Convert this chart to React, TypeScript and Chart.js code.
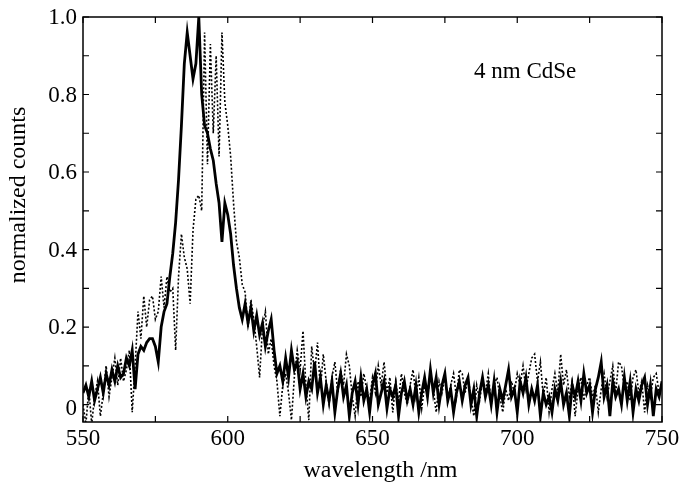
import React, { useEffect, useRef } from "react";
import { Chart, registerables } from "chart.js";

Chart.register(...registerables);

const START_NM = 550;
const X_TICKS = [550, 600, 650, 700, 750];
const Y_TICKS = [0, 0.2, 0.4, 0.6, 0.8, 1.0];
const X_MINOR = [550, 575, 600, 625, 650, 675, 700, 725, 750];
const Y_MINOR = [0, 0.1, 0.2, 0.3, 0.4, 0.5, 0.6, 0.7, 0.8, 0.9, 1.0];

const X_TITLE = "wavelength /nm";
const Y_TITLE = "normalized counts";
const NOTE = "4 nm CdSe";

// solid (thick) spectrum, 1 nm steps from 550 nm
const SOLID = [
  0.03, 0.05, 0.02, 0.06, 0.01, 0.04, 0.07, 0.03, 0.08, 0.05,
  0.09, 0.06, 0.1, 0.07, 0.08, 0.12, 0.1, 0.14, 0.04, 0.13,
  0.15, 0.14, 0.16, 0.17, 0.17, 0.15, 0.11, 0.2, 0.24, 0.26,
  0.33, 0.39, 0.47, 0.58, 0.72, 0.88, 0.96, 0.9, 0.84, 0.88,
  1.0, 0.8, 0.72, 0.7, 0.66, 0.63, 0.57, 0.52, 0.42, 0.52,
  0.49, 0.44, 0.36, 0.3, 0.25, 0.22, 0.26, 0.21, 0.25, 0.19,
  0.23, 0.18, 0.21, 0.15, 0.19, 0.22, 0.14, 0.08, 0.1, 0.06,
  0.12, 0.07, 0.14, 0.09, 0.11, 0.04, 0.08, 0.02, 0.06, 0.04,
  0.11, 0.03, 0.07, 0.0, 0.05, 0.01, 0.06, -0.02, 0.04, 0.08,
  0.02, 0.05, -0.03, 0.03, 0.06, 0.0, 0.07, 0.01, 0.04, -0.02,
  0.05, 0.08, 0.0, 0.03, 0.06, -0.01, 0.04, 0.02, 0.05, -0.03,
  0.03, 0.06, 0.01, 0.04, 0.0, 0.05, -0.02, 0.03, 0.07, 0.02,
  0.09, 0.03, 0.07, 0.0, 0.05, 0.08, 0.01, 0.04, -0.02, 0.03,
  0.06, 0.01, 0.05, 0.07, 0.0, 0.04, -0.03, 0.03, 0.07, 0.02,
  0.05, 0.0, 0.06, -0.02, 0.04, 0.01, 0.05, 0.09, 0.02, 0.04,
  -0.02, 0.06, 0.03, 0.07, 0.0, 0.04, 0.01, 0.05, -0.03, 0.03,
  0.0, 0.02, -0.02, 0.04, 0.01, 0.06, 0.0, 0.03, -0.03, 0.05,
  0.02, 0.06, 0.01, 0.08, 0.03, 0.05, -0.02, 0.04, 0.07, 0.11,
  0.02, 0.05, -0.03, 0.06, 0.02, 0.04, 0.0, 0.07, 0.01, 0.06,
  -0.02, 0.04, 0.01, 0.05, 0.07, 0.0, 0.05, -0.03, 0.04, 0.02,
  0.06,
];

// dotted spectrum, 1 nm steps from 550 nm
const DOTTED = [
  0.0, -0.05, 0.04, -0.05, 0.02, 0.06, -0.03, 0.03, 0.1, 0.02,
  0.07, 0.12, 0.05, 0.12, 0.06, 0.09, 0.14, -0.02, 0.1, 0.24,
  0.17, 0.28, 0.2, 0.27, 0.28, 0.22, 0.24, 0.33, 0.25, 0.33,
  0.29, 0.3, 0.14, 0.33, 0.44, 0.38, 0.35, 0.26, 0.45, 0.53,
  0.54, 0.5, 0.96, 0.62, 0.93, 0.7, 0.9, 0.64, 0.96, 0.78,
  0.72, 0.64, 0.52, 0.42, 0.38, 0.31, 0.29, 0.2, 0.27, 0.22,
  0.15, 0.07, 0.2, 0.24, 0.13, 0.17, 0.1, 0.06, -0.03, 0.05,
  0.08, 0.03, -0.04, 0.07, 0.14, 0.09, 0.19, 0.05, -0.04, 0.15,
  0.08, 0.16, 0.04, 0.13, 0.06, 0.0, 0.07, 0.11, 0.03, 0.09,
  0.05, 0.13, 0.1, 0.02, -0.03, 0.06, 0.02, 0.08, 0.04, 0.01,
  0.07, 0.03, 0.1, 0.05, 0.11, 0.03, 0.07, -0.02, 0.06, 0.01,
  0.08, 0.03, 0.0, 0.05, 0.09, 0.02, 0.07, -0.01, 0.05, 0.02,
  0.08, 0.04, -0.02, 0.06, 0.03, 0.07, 0.01, 0.05, 0.08, 0.02,
  0.09, 0.08, 0.03, 0.07, 0.02, -0.03, 0.05, 0.01, 0.06, 0.03,
  0.08, 0.0, 0.05, 0.07, 0.02, -0.02, 0.04, 0.01, 0.06, 0.03,
  0.08, 0.05, 0.1, 0.04, 0.08, 0.12, 0.13, 0.06, 0.11, 0.02,
  0.07, -0.02, 0.04, 0.08, 0.03, 0.13, 0.05, 0.09, 0.02, 0.06,
  -0.03, 0.04, 0.07, 0.01, 0.05, 0.07, 0.02, 0.05, -0.02, 0.04,
  0.08, 0.02, 0.06, 0.1, 0.03, 0.11, 0.1, 0.04, 0.06, 0.01,
  0.07, 0.09, 0.03, 0.06, -0.02, 0.05, 0.02, 0.07, 0.08, 0.03,
  0.05,
];

const FONT = "'Liberation Serif', 'Times New Roman', serif";

const framePlugin = {
  id: "frame",
  afterDatasetsDraw(chart: any) {
    const { ctx, chartArea, scales } = chart;
    const { left, right, top, bottom } = chartArea;
    ctx.save();
    ctx.strokeStyle = "#000";
    ctx.lineWidth = 1.5;
    ctx.strokeRect(left, top, right - left, bottom - top);
    ctx.lineWidth = 1.2;
    const tl = 6;
    ctx.beginPath();
    X_MINOR.forEach((v) => {
      const x = scales.x.getPixelForValue(v);
      ctx.moveTo(x, bottom);
      ctx.lineTo(x, bottom - tl);
      ctx.moveTo(x, top);
      ctx.lineTo(x, top + tl);
    });
    Y_MINOR.forEach((v) => {
      const y = scales.y.getPixelForValue(v);
      ctx.moveTo(left, y);
      ctx.lineTo(left + tl, y);
      ctx.moveTo(right, y);
      ctx.lineTo(right - tl, y);
    });
    ctx.stroke();
    ctx.fillStyle = "#000";
    // tick labels
    ctx.font = `23px ${FONT}`;
    ctx.textBaseline = "middle";
    ctx.textAlign = "center";
    X_TICKS.forEach((v) => {
      ctx.fillText(String(v), scales.x.getPixelForValue(v), bottom + 17);
    });
    ctx.textAlign = "right";
    Y_TICKS.forEach((v) => {
      const label = v === 0 ? "0" : v.toFixed(1);
      const dy = v === 0 ? 4 : 1;
      ctx.fillText(label, left - 6, scales.y.getPixelForValue(v) + dy);
    });
    // annotation
    ctx.textBaseline = "alphabetic";
    ctx.textAlign = "left";
    ctx.fillText(NOTE, 474, 78);
    // axis titles
    ctx.font = `24px ${FONT}`;
    ctx.textAlign = "center";
    ctx.textBaseline = "middle";
    ctx.fillText(X_TITLE, (left + right) / 2 + 8, 471);
    ctx.translate(19, 195);
    ctx.rotate(-Math.PI / 2);
    ctx.fillText(Y_TITLE, 0, 0);
    ctx.restore();
  },
};

export default function App() {
  const ref = useRef<HTMLCanvasElement | null>(null);
  useEffect(() => {
    if (!ref.current) return;
    const chart = new Chart(ref.current, {
      type: "line",
      data: {
        datasets: [
          {
            label: "dotted",
            data: DOTTED.map((y, i) => ({ x: START_NM + i, y })),
            borderColor: "#000",
            borderWidth: 1.6,
            borderDash: [2, 2],
            pointRadius: 0,
            tension: 0,
            fill: false,
          },
          {
            label: "solid",
            data: SOLID.map((y, i) => ({ x: START_NM + i, y })),
            borderColor: "#000",
            borderWidth: 2.8,
            pointRadius: 0,
            tension: 0,
            fill: false,
          },
        ],
      },
      plugins: [framePlugin],
      options: {
        animation: false,
        responsive: false,
        maintainAspectRatio: false,
        layout: { padding: { top: 17, right: 21, left: 0, bottom: 0 } },
        plugins: { legend: { display: false }, tooltip: { enabled: false } },
        scales: {
          x: {
            type: "linear",
            min: 550,
            max: 750,
            grid: { display: false },
            border: { display: false },
            ticks: { display: false },
            afterBuildTicks: (s: any) => {
              s.ticks = X_TICKS.map((v) => ({ value: v }));
            },
            afterFit: (s: any) => {
              s.height = 62;
              s.paddingLeft = 0;
              s.paddingRight = 0;
            },
          },
          y: {
            type: "linear",
            min: -0.045,
            max: 1.0,
            grid: { display: false },
            border: { display: false },
            ticks: { display: false },
            afterBuildTicks: (s: any) => {
              s.ticks = Y_TICKS.map((v) => ({ value: v }));
            },
            afterFit: (s: any) => {
              s.width = 83;
              s.paddingTop = 0;
              s.paddingBottom = 0;
            },
          },
        },
      },
    });
    return () => chart.destroy();
  }, []);
  return (
    <div style={{ position: "absolute", left: 0, top: 0, width: 683, height: 484, background: "#fff" }}>
      <canvas ref={ref} width={683} height={484} style={{ width: 683, height: 484, display: "block" }} />
    </div>
  );
}
